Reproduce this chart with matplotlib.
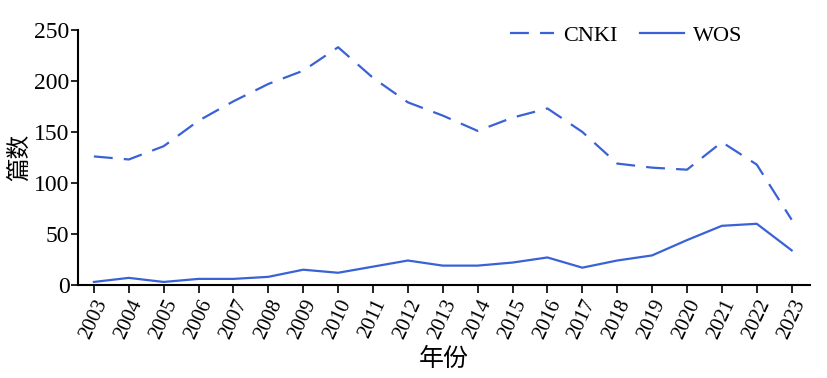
import matplotlib.pyplot as plt

years = list(range(2003, 2024))
cnki = [126, 123, 136, 161, 180, 197, 210, 233, 203, 179, 166, 151, 164, 173, 150, 119, 115, 113, 140, 118, 64]
wos = [3, 7, 3, 6, 6, 8, 15, 12, 18, 24, 19, 19, 22, 27, 17, 24, 29, 44, 58, 60, 34]

fam = ['Liberation Serif', 'Noto Sans CJK SC']
plt.rcParams['font.family'] = fam
color = '#3a62d6'

fig = plt.figure(figsize=(8.28, 3.78), dpi=100)
ax = fig.add_axes([0.094, 0.246, 0.884, 0.675])

ax.plot(years, cnki, color=color, lw=1.6, dashes=(8.5, 5), label='CNKI')
ax.plot(years, wos, color=color, lw=1.6, label='WOS')

ax.set_xlim(2002.54, 2023.52)
ax.set_ylim(0, 250)
ax.set_xticks(years)
ax.set_xticklabels([str(y) for y in years], rotation=65, fontsize=15)
ax.set_yticks([0, 50, 100, 150, 200, 250])
ax.tick_params(axis='y', labelsize=17, length=5, width=1.2, pad=1)
ax.tick_params(axis='x', length=6, width=1.2, pad=2)
for s in ['top', 'right']:
    ax.spines[s].set_visible(False)
for s in ['left', 'bottom']:
    ax.spines[s].set_linewidth(1.5)

ax.set_ylabel('篇数', fontsize=17, family=['Noto Sans CJK SC'], labelpad=2)
ax.set_xlabel('年份', fontsize=18, family=['Noto Sans CJK SC'], labelpad=3)

ax.legend(loc='center', bbox_to_anchor=(0.756, 0.905), bbox_transform=fig.transFigure,
          frameon=False, ncol=2, fontsize=16, handlelength=2.0, columnspacing=1.0,
          handletextpad=0.4)

fig.savefig('out.png', dpi=100)
